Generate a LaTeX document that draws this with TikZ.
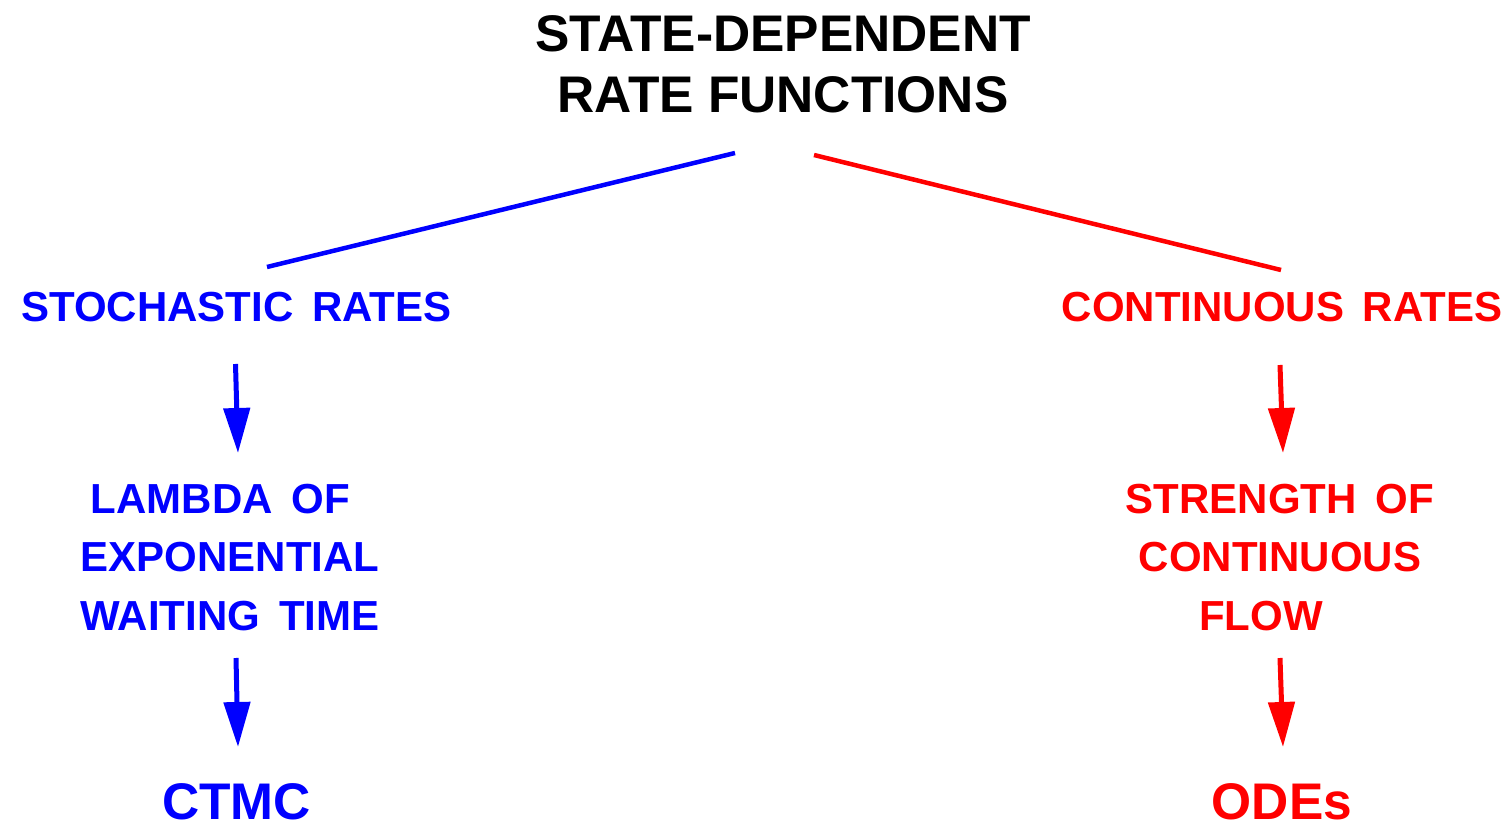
\documentclass[tikz,border=0pt]{standalone}
\usepackage{fontspec}
\setmainfont{Liberation Sans}
\usetikzlibrary{arrows.meta}
\definecolor{myblue}{RGB}{0,0,255}
\definecolor{myred}{RGB}{255,0,0}
\newcommand\wsp{\hspace{0.45em}}
\tikzset{
  lbl/.style={inner sep=0pt, anchor=base, align=center, font=\bfseries\fontsize{42}{58.5}\selectfont},
  big/.style={inner sep=0pt, anchor=base, align=center, font=\bfseries\fontsize{51.5}{61}\selectfont},
  branch/.style={line width=4.5pt},
  flowarrow/.style={line width=5pt, -{Triangle[length=45pt,width=26pt]}}
}
\begin{document}
\begin{tikzpicture}[x=1pt,y=-1pt]
\useasboundingbox (0,0) rectangle (1508,826);
\node[big] (title) at (783,113) {STATE-DEPENDENT\\RATE FUNCTIONS};
\node[lbl, text=myblue] (stoch) at (236.5,322) {STOCHASTIC\wsp RATES};
\node[lbl, text=myred] (cont) at (1282,322) {CONTINUOUS\wsp RATES};
\node[lbl, text=myblue] (lambda) at (230,630) {LAMBDA\wsp OF\kern0.45em\\EXPONENTIAL\\WAITING\wsp TIME};
\node[lbl, text=myred] (strength) at (1280,630) {STRENGTH\wsp OF\\CONTINUOUS\\FLOW\kern0.9em};
\node[big, text=myblue] (ctmc) at (236.5,819) {CTMC};
\node[big, text=myred] (odes) at (1282,819) {ODEs};
\coordinate (bl1) at (735,153);
\coordinate (bl2) at (267,267);
\coordinate (rl1) at (814,155);
\coordinate (rl2) at (1281,270);
\draw[branch, myblue] (bl1) -- (bl2);
\draw[branch, myred] (rl1) -- (rl2);
\coordinate (a1s) at (235.5,364);
\coordinate (a1e) at (238,453);
\coordinate (a2s) at (236,658);
\coordinate (a2e) at (238,747);
\coordinate (a3s) at (1280,365);
\coordinate (a3e) at (1283,453);
\coordinate (a4s) at (1280,658);
\coordinate (a4e) at (1283,747);
\draw[flowarrow, myblue] (a1s) -- (a1e);
\draw[flowarrow, myblue] (a2s) -- (a2e);
\draw[flowarrow, myred] (a3s) -- (a3e);
\draw[flowarrow, myred] (a4s) -- (a4e);
\end{tikzpicture}
\end{document}
